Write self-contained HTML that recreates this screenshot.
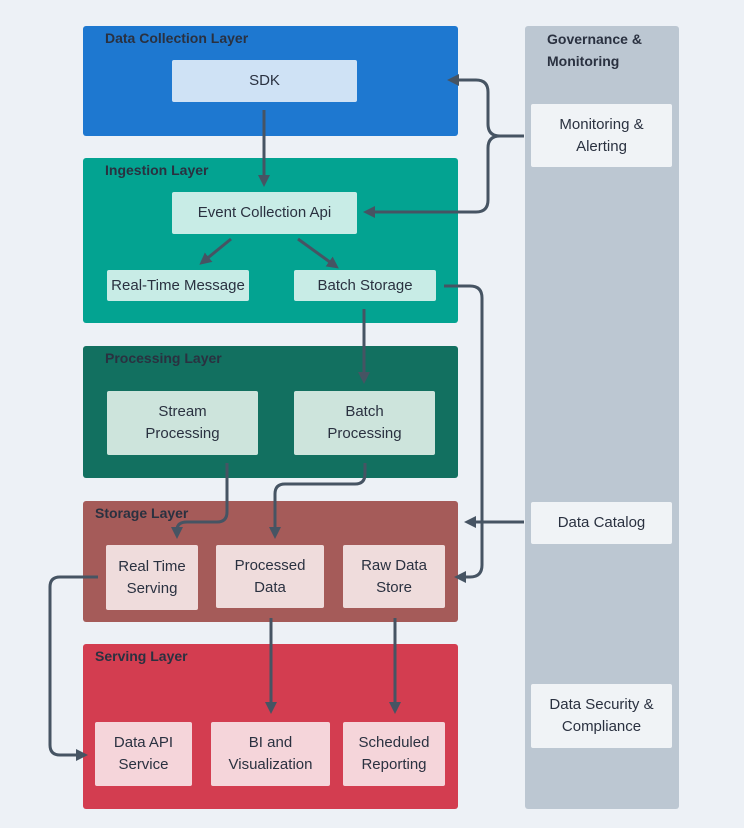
<!DOCTYPE html>
<html><head><meta charset="utf-8"><style>
body{margin:0;width:744px;height:828px;background:#edf1f6;position:relative;font-family:"Liberation Sans",sans-serif;overflow:hidden}
.l{position:absolute;border-radius:3px}
.t{position:absolute;font-weight:bold;font-size:14px;color:#2a3140}
.n{position:absolute;display:flex;align-items:center;justify-content:center;text-align:center;font-size:15px;line-height:22px;color:#2a3140;border-radius:2px}
svg{position:absolute;left:0;top:0}
</style></head><body>
<div class="l" style="left:83px;top:26px;width:375px;height:110px;background:#1e78d0"></div>
<div class="t" style="left:105px;top:30px">Data Collection Layer</div>
<div class="n" style="left:172px;top:60px;width:185px;height:42px;background:#cfe2f5">SDK</div>

<div class="l" style="left:83px;top:158px;width:375px;height:165px;background:#03a391"></div>
<div class="t" style="left:105px;top:162px">Ingestion Layer</div>
<div class="n" style="left:172px;top:192px;width:185px;height:42px;background:#c8ece6">Event Collection Api</div>
<div class="n" style="left:107px;top:270px;width:142px;height:31px;background:#c8ece6">Real-Time Message</div>
<div class="n" style="left:294px;top:270px;width:142px;height:31px;background:#c8ece6">Batch Storage</div>

<div class="l" style="left:83px;top:346px;width:375px;height:132px;background:#127060"></div>
<div class="t" style="left:105px;top:350px">Processing Layer</div>
<div class="n" style="left:107px;top:391px;width:151px;height:64px;background:#cde4dc">Stream<br>Processing</div>
<div class="n" style="left:294px;top:391px;width:141px;height:64px;background:#cde4dc">Batch<br>Processing</div>

<div class="l" style="left:83px;top:501px;width:375px;height:121px;background:#a55b59"></div>
<div class="t" style="left:95px;top:505px">Storage Layer</div>
<div class="n" style="left:106px;top:545px;width:92px;height:65px;background:#efdcdc">Real Time<br>Serving</div>
<div class="n" style="left:216px;top:545px;width:108px;height:63px;background:#efdcdc">Processed<br>Data</div>
<div class="n" style="left:343px;top:545px;width:102px;height:63px;background:#efdcdc">Raw Data<br>Store</div>

<div class="l" style="left:83px;top:644px;width:375px;height:165px;background:#d33d50"></div>
<div class="t" style="left:95px;top:648px">Serving Layer</div>
<div class="n" style="left:95px;top:722px;width:97px;height:64px;background:#f5d5da">Data API<br>Service</div>
<div class="n" style="left:211px;top:722px;width:119px;height:64px;background:#f5d5da">BI and<br>Visualization</div>
<div class="n" style="left:343px;top:722px;width:102px;height:64px;background:#f5d5da">Scheduled<br>Reporting</div>

<div class="l" style="left:525px;top:26px;width:154px;height:783px;background:#bcc7d2"></div>
<div class="t" style="left:547px;top:28px;line-height:22px">Governance &amp;<br>Monitoring</div>
<div class="n" style="left:531px;top:104px;width:141px;height:63px;background:#f0f3f6">Monitoring &amp;<br>Alerting</div>
<div class="n" style="left:531px;top:502px;width:141px;height:42px;background:#f0f3f6">Data Catalog</div>
<div class="n" style="left:531px;top:684px;width:141px;height:64px;background:#f0f3f6">Data Security &amp;<br>Compliance</div>

<svg width="744" height="828">
<defs><marker id="a" markerWidth="4" markerHeight="4" refX="2" refY="2" orient="auto"><path d="M0,0 L4,2 L0,4 Z" fill="#465463"/></marker></defs>
<g fill="none" stroke="#465463" stroke-width="3" marker-end="url(#a)">
<path d="M264,110 V181"/>
<path d="M524,136 H500 Q488,136 488,124 V92 Q488,80 476,80 H453"/>
<path d="M524,136 H500 Q488,136 488,148 V200 Q488,212 476,212 H369"/>
<path d="M231,239 L204,261"/>
<path d="M298,239 L334,265"/>
<path d="M444,286 H470 Q482,286 482,298 V565 Q482,577 470,577 H460"/>
<path d="M364,309 V378"/>
<path d="M227,463 V512 Q227,522 217,522 H187 Q177,522 177,530 V533"/>
<path d="M365,463 V474 Q365,484 355,484 H285 Q275,484 275,494 V533"/>
<path d="M524,522 H470"/>
<path d="M98,577 H60 Q50,577 50,587 V745 Q50,755 60,755 H82"/>
<path d="M271,618 V708"/>
<path d="M395,618 V708"/>
</g></svg>
</body></html>
